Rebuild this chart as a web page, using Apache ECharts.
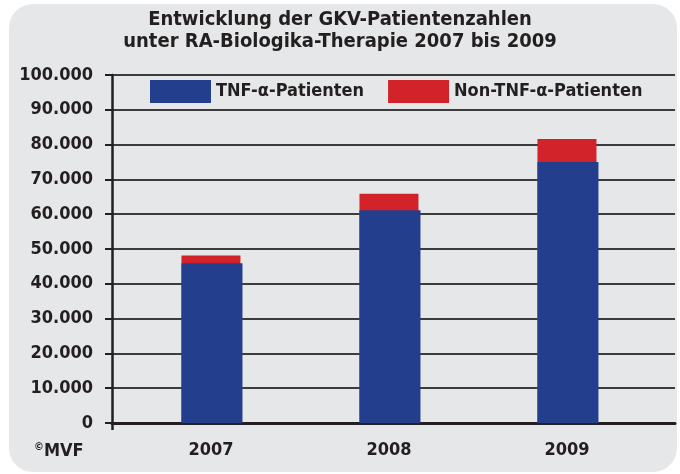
<!DOCTYPE html>
<html>
<head>
<meta charset="utf-8">
<script src="https://cdn.jsdelivr.net/npm/echarts@6/dist/echarts.min.js"></script>
<style>
  html, body { margin: 0; padding: 0; background: #fff; }
  #chart { width: 680px; height: 474px; }
</style>
</head>
<body>
<div id="chart"></div>
<script>
// Daten
var years = [2007, 2008, 2009];
var tnfPatienten = [45900, 61100, 75000];
var nonTnfPatienten = [2200, 4800, 6600];
var seriesNames = ['TNF-α-Patienten', 'Non-TNF-α-Patienten'];
var titleLines = ['Entwicklung der GKV-Patientenzahlen', 'unter RA-Biologika-Therapie 2007 bis 2009'];

var fontName = '"DejaVu Sans Condensed", "DejaVu Sans", sans-serif';
var dark = '#231f20';
var blue = '#233e8c';
var red = '#d2232a';

// x-Achse als Wertachse, damit die Balken wie im Original sitzen
var xMin = 2006.444;
var xMax = 2009.607;

// Stapeln klappt auf der Wertachse nicht, daher roter Balken = Summe, blauer darüber
function pairs(values) {
    var out = [];
    for (let i = 0; i < years.length; i++) {
        out.push([years[i], values[i]]);
    }
    return out;
}
function totals() {
    var out = [];
    for (let i = 0; i < years.length; i++) {
        out.push(tnfPatienten[i] + nonTnfPatienten[i]);
    }
    return out;
}

var myChart = echarts.init(document.getElementById('chart'));
var option = {
    backgroundColor: '#ffffff',
    animation: false,
    graphic: [
        {
            type: 'rect',
            z: -10,
            shape: { x: 9, y: 4, width: 668, height: 468, r: 24 },
            style: { fill: '#e6e7e8' }
        },
        {
            type: 'text',
            left: 34,
            top: 442,
            style: {
                text: '{a|©}{b|MVF}',
                rich: {
                    a: { fontSize: 11, fontWeight: 'bold', fontFamily: fontName, fill: dark, verticalAlign: 'top', padding: [0, 0, 8, 0] },
                    b: { fontSize: 18, fontWeight: 'bold', fontFamily: fontName, fill: dark }
                }
            }
        }
    ],
    title: {
        text: titleLines.join('\n'),
        left: 'center',
        top: 4,
        textStyle: {
            fontFamily: fontName,
            fontSize: 20,
            fontWeight: 'bold',
            lineHeight: 22,
            color: dark
        }
    },
    legend: {
        left: 150,
        top: 80,
        padding: 0,
        itemWidth: 61,
        itemHeight: 23,
        itemGap: 24,
        icon: 'rect',
        data: seriesNames,
        textStyle: {
            fontFamily: fontName,
            fontSize: 18,
            fontWeight: 'bold',
            color: dark
        }
    },
    grid: {
        left: 112,
        right: 5,
        top: 75,
        bottom: 51
    },
    xAxis: {
        type: 'value',
        min: xMin,
        max: xMax,
        splitLine: { show: false },
        axisLine: { show: true, lineStyle: { color: dark, width: 3 } },
        axisTick: {
            show: true,
            customValues: [xMin],
            length: 7,
            lineStyle: { color: dark, width: 2.5 }
        },
        axisLabel: {
            customValues: years,
            formatter: function (v) { return String(v); },
            margin: 18,
            fontFamily: fontName,
            fontSize: 18,
            fontWeight: 'bold',
            color: dark
        }
    },
    yAxis: {
        type: 'value',
        min: 0,
        max: 100000,
        interval: 10000,
        axisLine: { show: true, lineStyle: { color: dark, width: 2.5 } },
        axisTick: { show: true, length: 7, lineStyle: { color: dark, width: 2 } },
        splitLine: { show: true, lineStyle: { color: '#3c3b3d', width: 2 } },
        axisLabel: {
            margin: 19,
            fontFamily: fontName,
            fontSize: 18,
            fontWeight: 'bold',
            color: dark,
            formatter: function (v) {
                return v === 0 ? '0' : (v / 1000) + '.000';
            }
        }
    },
    series: [
        {
            name: seriesNames[0],
            type: 'bar',
            barWidth: 61,
            barGap: '-100%',
            z: 3,
            itemStyle: { color: blue },
            data: pairs(tnfPatienten)
        },
        {
            name: seriesNames[1],
            type: 'bar',
            barWidth: 59,
            barGap: '-100%',
            z: 2,
            itemStyle: { color: red },
            data: pairs(totals())
        }
    ]
};
myChart.setOption(option);
</script>
</body>
</html>
